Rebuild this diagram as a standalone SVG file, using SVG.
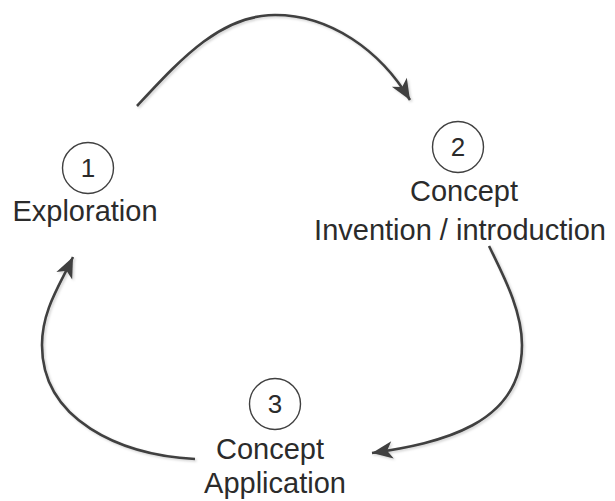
<svg xmlns="http://www.w3.org/2000/svg" width="615" height="501" viewBox="0 0 615 501">
<defs>
<style>
.lbl{font-family:"Liberation Sans",Arial,sans-serif;font-size:29px;fill:#2b2b2b;text-anchor:middle}
.num{font-family:"Liberation Sans",Arial,sans-serif;font-size:26px;fill:#2b2b2b;text-anchor:middle}
.ring{fill:#fff;stroke:#404040;stroke-width:1.4}
.conn{fill:none;stroke:#404040;stroke-width:2.6;marker-end:url(#head)}
</style>
<marker id="head" markerUnits="userSpaceOnUse" markerWidth="24" markerHeight="24" viewBox="-20 -10 22 20" refX="0" refY="0" orient="auto" overflow="visible">
<path d="M0,0 L-19,-8 L-14,0 L-19,8 Z" fill="#404040"/>
</marker>
<filter id="sh" x="-10%" y="-10%" width="120%" height="120%">
<feDropShadow dx="1.5" dy="1.5" stdDeviation="1" flood-color="#000" flood-opacity="0.18"/>
</filter>
</defs>
<g id="connectors" filter="url(#sh)">
<path class="conn" d="M137,106 C180,60 220,15 275,15 C330,15 380,50 410,100"/>
<path class="conn" d="M489,246 C503,275 522,310 522,345 C522,425 440,443 372,453"/>
<path class="conn" d="M195,459 C120,455 42,420 42,345 C42,310 60,285 73,257"/>
</g>
<g id="node1">
<circle class="ring" cx="88" cy="168" r="25.5"/>
<text class="num" x="88" y="177">1</text>
<text class="lbl" x="85" y="221">Exploration</text>
</g>
<g id="node2">
<circle class="ring" cx="458" cy="147" r="25.5"/>
<text class="num" x="458" y="156">2</text>
<text class="lbl" x="464" y="201">Concept</text>
<text class="lbl" x="460" y="240">Invention / introduction</text>
</g>
<g id="node3">
<circle class="ring" cx="275" cy="404" r="25.5"/>
<text class="num" x="275" y="413">3</text>
<text class="lbl" x="270" y="459">Concept</text>
<text class="lbl" x="275" y="493">Application</text>
</g>
</svg>
